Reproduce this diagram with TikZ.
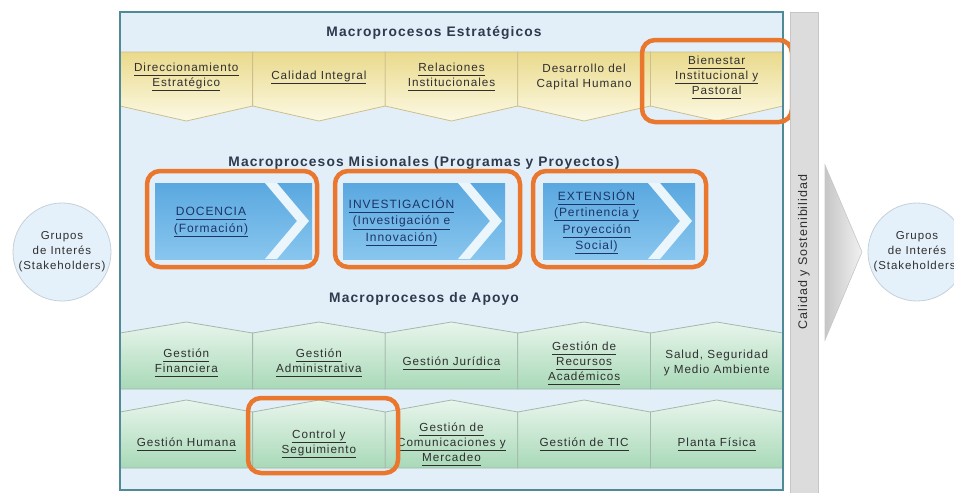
\documentclass[tikz,border=0pt]{standalone}
\usepackage{fontspec}
\setmainfont{Liberation Sans}
\newfontfamily\wfont[LetterSpace=8]{Liberation Sans}
\usepackage{xcolor}
\usepackage{tikz}
\usetikzlibrary{positioning}
\newcommand\undl[1]{\underline{#1\vphantom{gy}}}
\tikzstyle{stratBlock} = [top color=stratTop, bottom color=stratBot, draw=stratEdge, line width=0.8pt]
\tikzstyle{apoBlock} = [top color=apoTop, bottom color=apoBot, draw=apoEdge, line width=0.8pt]
\tikzstyle{misBlock} = [top color=misTop, bottom color=misBot]
\tikzstyle{misStripe} = [fill=stripeWhite]
\tikzstyle{blockText} = [align=center, inner sep=0pt, text=txtGray, font=\wfont\fontsize{11.7}{15}\selectfont]
\tikzstyle{misText} = [blockText, text=misNavy, font=\wfont\fontsize{12}{16.5}\selectfont]
\tikzstyle{secTitle} = [inner sep=0pt, text=titleNavy, font=\wfont\bfseries\fontsize{13.8}{16}\selectfont]
\tikzstyle{hilite} = [draw=hlOrange, line width=4.5pt, rounded corners=13pt]
\tikzstyle{stake} = [circle, minimum size=98pt, inner sep=0pt, fill=circBlue, draw=circEdge, line width=0.8pt, align=center, text=txtGray, font=\wfont\fontsize{11.5}{15}\selectfont]
\definecolor{panelBlue}{HTML}{E2EFF9}
\definecolor{frameTeal}{HTML}{4F8A96}
\definecolor{stratTop}{HTML}{EADA8C}
\definecolor{stratBot}{HTML}{FCF9E4}
\definecolor{stratEdge}{HTML}{CDBF8C}
\definecolor{apoTop}{HTML}{E8F5EC}
\definecolor{apoBot}{HTML}{A8D9B7}
\definecolor{apoEdge}{HTML}{A3B8AC}
\definecolor{misTop}{HTML}{5AA8E0}
\definecolor{misBot}{HTML}{88C6EE}
\definecolor{stripeWhite}{HTML}{EAF5FC}
\definecolor{txtGray}{HTML}{2F2F2F}
\definecolor{misNavy}{HTML}{1C3566}
\definecolor{titleNavy}{HTML}{2E3B4E}
\definecolor{hlOrange}{HTML}{E9772E}
\definecolor{circBlue}{HTML}{E5F1FA}
\definecolor{circEdge}{HTML}{C5D0D8}
\definecolor{barGray}{HTML}{DCDCDC}
\definecolor{barEdge}{HTML}{C6C6C6}

\begin{document}
\begin{tikzpicture}[x=1pt, y=-1pt]
        \useasboundingbox (0,0) rectangle (954,493);
        % panel
        \path[fill=panelBlue] (120,12) rectangle (783,490);
        \node(tEst) [secTitle] at (434,33) {Macroprocesos Estratégicos};
        \node(tMis) [secTitle] at (424,163) {Macroprocesos Misionales (Programas y Proyectos)};
        \node(tApo) [secTitle] at (424,299) {Macroprocesos de Apoyo};
        % estrategicos
        \foreach \i/\x/\txt in {1/120/{\undl{Direccionamiento}\\\undl{Estratégico}},
                2/252.6/{\undl{Calidad Integral}},
                3/385.2/{\undl{Relaciones}\\\undl{Institucionales}},
                4/517.8/{Desarrollo del\\Capital Humano},
                5/650.4/{\undl{Bienestar}\\\undl{Institucional y}\\\undl{Pastoral}}} {
            \path[stratBlock] (\x,52) -- (\x+132.6,52) -- (\x+132.6,106) -- (\x+66.3,121) -- (\x,106) -- cycle;
            \node(strat\i) [blockText] at (\x+66.3,77) {\txt};
        }
        % misionales
        \foreach \i/\x/\w/\txt in {1/155/157/{\undl{DOCENCIA}\\\undl{(Formación)}},
                2/343/162/{\undl{INVESTIGACIÓN}\\\undl{(Investigación e}\\\undl{Innovación)}},
                3/543/152/{\undl{EXTENSIÓN}\\\undl{(Pertinencia y}\\\undl{Proyección}\\\undl{Social)}}} {
            \path[misBlock] (\x,183) rectangle (\x+\w,259);
            \path[misStripe] (\x+\w-47,183) -- (\x+\w-35,183) -- (\x+\w-3,221) -- (\x+\w-35,259) -- (\x+\w-47,259) -- (\x+\w-15,221) -- cycle;
            \node(mis\i) [misText] at ({\x+(\w-45)/2},222) {\txt};
        }
        % apoyo
        \foreach \i/\x/\txt in {1/120/{\undl{Gestión}\\\undl{Financiera}},
                2/252.6/{\undl{Gestión}\\\undl{Administrativa}},
                3/385.2/{\undl{Gestión Jurídica}},
                4/517.8/{\undl{Gestión de}\\\undl{Recursos}\\\undl{Académicos}},
                5/650.4/{Salud, Seguridad\\y Medio Ambiente}} {
            \path[apoBlock] (\x,333) -- (\x+66.3,322) -- (\x+132.6,333) -- (\x+132.6,389) -- (\x,389) -- cycle;
            \node(apo\i) [blockText] at (\x+66.3,363) {\txt};
        }
        \foreach \i/\x/\txt in {6/120/{\undl{Gestión Humana}},
                7/252.6/{\undl{Control y}\\\undl{Seguimiento}},
                8/385.2/{\undl{Gestión de}\\\undl{Comunicaciones y}\\\undl{Mercadeo}},
                9/517.8/{\undl{Gestión de TIC}},
                10/650.4/{\undl{Planta Física}}} {
            \path[apoBlock] (\x,412) -- (\x+66.3,400) -- (\x+132.6,412) -- (\x+132.6,468) -- (\x,468) -- cycle;
            \node(apo\i) [blockText] at (\x+66.3,444) {\txt};
        }
        \draw[frameTeal, line width=1.2pt] (120,12) rectangle (783,490);
        % resaltados
        \draw[hilite] (642,40) rectangle (792,122);
        \draw[hilite] (147,171) rectangle (317,267);
        \draw[hilite] (335,171) rectangle (520,267);
        \draw[hilite] (533,171) rectangle (706,267);
        \draw[hilite] (248,398) rectangle (398,473);
        % calidad y flecha
        \path[fill=barGray, draw=barEdge, line width=0.6pt] (790,12) rectangle (818,495);
        \node(calidad) [blockText, rotate=90, font=\wfont\fontsize{12.5}{15}\selectfont] at (804,252) {Calidad y Sostenibilidad};
        \path[left color=barEdge, right color=barGray!40, draw=barEdge, line width=0.6pt] (825,165) -- (862,252) -- (825,340) -- cycle;
        \node(stakeIn) [stake] at (62,252) {Grupos\\de Interés\\(Stakeholders)};
        \node(stakeOut) [stake] at (917,252) {Grupos\\de Interés\\(Stakeholders)};
    \end{tikzpicture}
\end{document}
